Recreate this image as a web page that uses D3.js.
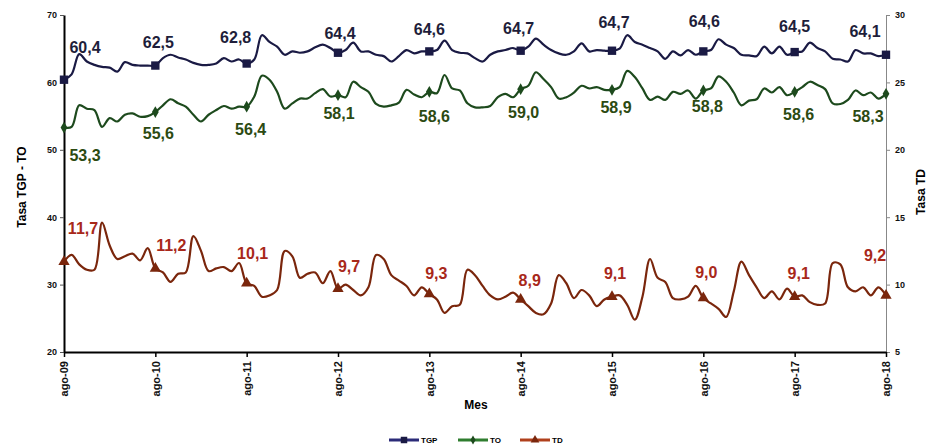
<!DOCTYPE html>
<html>
<head>
<meta charset="utf-8">
<script src="https://cdn.jsdelivr.net/npm/d3@7"></script>
<style>
  body { margin: 0; background: #fff; }
  text { font-family: "Liberation Sans", Arial, sans-serif; font-weight: bold; }
</style>
</head>
<body>
<div id="chart"></div>
<script>
// Year tick labels (one every 12 months, ago-09 .. ago-18)
const tickLabels = ["ago-09", "ago-10", "ago-11", "ago-12", "ago-13", "ago-14", "ago-15", "ago-16", "ago-17", "ago-18"];

// Monthly rates (Aug 2009 .. Aug 2018)
const tgp = [
  60.4, 61.2, 64.2, 63.1, 62.6, 62.3, 62.2, 61.6, 63.0, 62.6, 62.5, 62.5,
  62.5, 63.6, 64.1, 63.7, 63.4, 62.9, 62.6, 62.6, 62.8, 63.6, 63.1, 63.4,
  62.8, 63.4, 67.0, 66.0, 65.3, 64.1, 64.6, 64.4, 64.6, 65.2, 65.6, 65.1,
  64.4, 64.8, 65.9, 64.6, 64.6, 64.1, 63.9, 63.1, 63.9, 64.8, 64.3, 64.6,
  64.6, 64.8, 66.2, 64.8, 64.4, 64.3, 63.6, 63.1, 64.1, 64.6, 64.8, 65.1,
  64.7, 65.3, 66.5, 65.6, 64.8, 64.3, 64.1, 64.6, 65.8, 64.6, 64.8, 64.7,
  64.7, 65.0, 67.0, 66.0, 65.6, 65.1, 64.6, 63.5, 64.6, 64.0, 64.8, 64.1,
  64.6, 64.8, 66.4, 65.6, 65.1, 64.1, 64.0, 63.9, 65.3, 64.3, 65.3, 64.1,
  64.5, 64.6, 65.9, 65.1, 64.6, 63.5, 63.4, 63.1, 64.8, 64.3, 64.3, 63.9,
  64.1
];
const to = [
  53.3, 53.4, 56.6, 56.1, 55.9, 53.4, 54.7, 54.2, 55.2, 55.4, 54.9, 55.0,
  55.6, 56.6, 57.5, 56.9, 56.4, 55.2, 54.2, 55.2, 55.9, 56.5, 56.1, 56.4,
  56.4, 57.9, 61.0, 60.4, 58.6, 56.1, 56.9, 57.6, 57.6, 58.4, 59.0, 57.9,
  58.1, 57.8, 60.1, 59.3, 58.6, 56.8, 56.4, 56.6, 57.0, 58.9, 58.2, 57.8,
  58.6, 58.4, 61.1, 59.1, 58.8, 56.9, 56.3, 56.3, 56.5, 57.8, 58.3, 57.8,
  59.0, 59.5, 61.5, 60.5, 59.3, 57.6, 57.8, 58.5, 59.5, 59.1, 59.3, 58.9,
  58.9, 59.3, 61.7, 60.8, 59.1, 57.4, 57.9, 57.4, 58.6, 58.3, 58.8, 57.6,
  58.8, 59.1, 60.9, 60.1, 58.5, 56.6, 57.3, 57.5, 59.1, 58.5, 59.3, 58.1,
  58.6, 59.3, 60.1, 59.6, 59.0, 56.9, 56.8, 57.4, 58.8, 58.1, 58.5, 57.6,
  58.3
];
const td = [
  11.7, 12.2, 11.5, 11.1, 11.1, 14.6, 12.9, 11.9, 12.1, 12.3, 11.8, 12.7,
  11.2, 10.9, 10.2, 10.8, 10.9, 13.6, 12.5, 11.0, 11.2, 11.3, 11.0, 11.6,
  10.1, 9.9, 9.1, 9.2, 9.6, 12.5, 12.1, 10.5, 10.8, 10.9, 10.1, 11.0,
  9.7, 10.0, 9.6, 9.2, 9.8, 12.2, 11.9, 10.7, 10.3, 9.9, 9.2, 9.8,
  9.3, 8.9, 7.9, 8.4, 8.5, 11.1, 10.7, 9.9, 9.2, 8.9, 9.1, 9.4,
  8.9, 8.4, 7.9, 7.8, 8.6, 10.7, 10.1, 9.0, 9.6, 9.2, 8.4, 8.9,
  9.1, 9.2, 8.5, 7.4, 9.1, 11.9, 10.5, 10.2, 9.0, 8.9, 9.1, 9.9,
  9.0, 8.6, 8.2, 7.6, 9.5, 11.7, 10.7, 9.8, 9.0, 9.5, 8.9, 9.7,
  9.1, 9.2, 8.7, 8.5, 8.6, 11.6, 11.5, 9.8, 9.5, 9.8, 9.2, 9.8,
  9.2
];

const leftTicks = [20, 30, 40, 50, 60, 70];
const rightTicks = [5, 10, 15, 20, 25, 30];

const width = 929, height = 448;
const plot = { left: 64, right: 886, top: 15, bottom: 352 };

const svg = d3.select("#chart").append("svg")
  .attr("width", width)
  .attr("height", height);

// scales
const x = d3.scaleLinear().domain([0, tgp.length - 1]).range([plot.left, plot.right]);
const yL = d3.scaleLinear().domain([20, 70]).range([plot.bottom, plot.top]);
const yR = d3.scaleLinear().domain([5, 30]).range([plot.bottom, plot.top]);

const es = d3.formatLocale({ decimal: ",", thousands: ".", grouping: [3], currency: ["$", ""] });
const fmt = es.format(".1f");

// left axis
const gL = svg.append("g")
  .attr("transform", `translate(${plot.left},0)`)
  .call(d3.axisLeft(yL).tickValues(leftTicks).tickSize(4).tickSizeOuter(0).tickFormat(d3.format("d")));
gL.select(".domain").attr("stroke", "#000").attr("stroke-width", 2);
gL.selectAll(".tick line").attr("stroke", "#555");
gL.selectAll(".tick text").attr("font-size", 9).attr("x", -7).attr("fill", "#111");

// right axis
const gR = svg.append("g")
  .attr("transform", `translate(${plot.right},0)`)
  .call(d3.axisRight(yR).tickValues(rightTicks).tickSize(4).tickSizeOuter(0).tickFormat(d3.format("d")));
gR.select(".domain").attr("stroke", "#888").attr("stroke-width", 1);
gR.selectAll(".tick line").attr("stroke", "#888");
gR.selectAll(".tick text").attr("font-size", 9).attr("x", 9).attr("fill", "#111");

// x axis
const yearIdx = d3.range(0, tgp.length, 12);
const gX = svg.append("g")
  .attr("transform", `translate(0,${plot.bottom})`)
  .call(d3.axisBottom(x).tickValues(yearIdx).tickSize(5).tickSizeOuter(0)
    .tickFormat((d, i) => tickLabels[i]));
gX.select(".domain").attr("stroke", "#000").attr("stroke-width", 2);
gX.selectAll(".tick line").attr("stroke", "#000").attr("stroke-width", 1.5);
gX.selectAll(".tick text")
  .attr("font-size", 11)
  .attr("fill", "#111")
  .attr("transform", "rotate(-90)")
  .attr("text-anchor", "end")
  .attr("x", -9)
  .attr("y", 0)
  .attr("dy", "0.35em");

// axis titles
svg.append("text")
  .attr("transform", "translate(22,187) rotate(-90)")
  .attr("text-anchor", "middle")
  .attr("dy", "0.35em")
  .attr("font-size", 12)
  .text("Tasa TGP - TO");

svg.append("text")
  .attr("transform", "translate(921,192) rotate(-90)")
  .attr("text-anchor", "middle")
  .attr("dy", "0.35em")
  .attr("font-size", 12)
  .text("Tasa TD");

svg.append("text")
  .attr("x", 476)
  .attr("y", 405)
  .attr("text-anchor", "middle")
  .attr("dy", "0.35em")
  .attr("font-size", 12)
  .text("Mes");

// series (label nudges are per year marker, in pixels)
const series = [
  { name: "TGP", values: tgp, y: yL, color: "#1a1a44", legend: "#2b2b78", label: "#1e1e3a", symbol: d3.symbolSquare, size: 70,
    dx: [21, 3, -11, 2, 0, -2, 2, 1, 0, -21], dy: [-32, -23, -26, -19, -22, -22, -28, -30, -26, -23] },
  { name: "TO", values: to, y: yL, color: "#1d4a1d", legend: "#2f7d2f", label: "#2c4a12", symbol: d3.symbolDiamond, size: 40,
    dx: [21, 3, 4, 1, 5, 3, 4, 4, 4, -18], dy: [28, 21, 23, 18, 25, 23, 18, 16, 23, 23] },
  { name: "TD", values: td, y: yR, color: "#7a260c", legend: "#b0401c", label: "#a8281a", symbol: d3.symbolTriangle, size: 55,
    dx: [19, 16, 6, 11, 7, 9, 3, 3, 4, -11], dy: [-33, -23, -30, -22, -21, -19, -23, -26, -23, -40] }
];

series.forEach(s => {
  const line = d3.line()
    .x((d, i) => x(i))
    .y(d => s.y(d))
    .curve(d3.curveCatmullRom.alpha(0.5));

  svg.append("path")
    .datum(s.values)
    .attr("fill", "none")
    .attr("stroke", s.color)
    .attr("stroke-width", 2.2)
    .attr("d", line);

  svg.selectAll(null)
    .data(yearIdx)
    .enter().append("path")
    .attr("transform", i => `translate(${x(i)},${s.y(s.values[i])})`)
    .attr("d", d3.symbol().type(s.symbol).size(s.size))
    .attr("fill", s.color);

  svg.selectAll(null)
    .data(yearIdx)
    .enter().append("text")
    .attr("x", (i, k) => x(i) + s.dx[k])
    .attr("y", (i, k) => s.y(s.values[i]) + s.dy[k])
    .attr("dy", "0.35em")
    .attr("text-anchor", "middle")
    .attr("font-size", 16)
    .attr("fill", s.label)
    .text(i => fmt(s.values[i]));
});

// legend
const legend = svg.append("g").attr("transform", "translate(389,440)");
const legendX = [0, 69, 131];
series.forEach((s, k) => {
  const g = legend.append("g").attr("transform", `translate(${legendX[k]},0)`);
  g.append("line").attr("x1", 0).attr("x2", 30).attr("stroke", s.legend).attr("stroke-width", 3);
  g.append("path").attr("transform", "translate(15,0)")
    .attr("d", d3.symbol().type(s.symbol).size(s.size * 0.6)).attr("fill", s.color);
  g.append("text").attr("x", 32).attr("dy", "0.35em").attr("font-size", 8).text(s.name);
});
</script>
</body>
</html>
